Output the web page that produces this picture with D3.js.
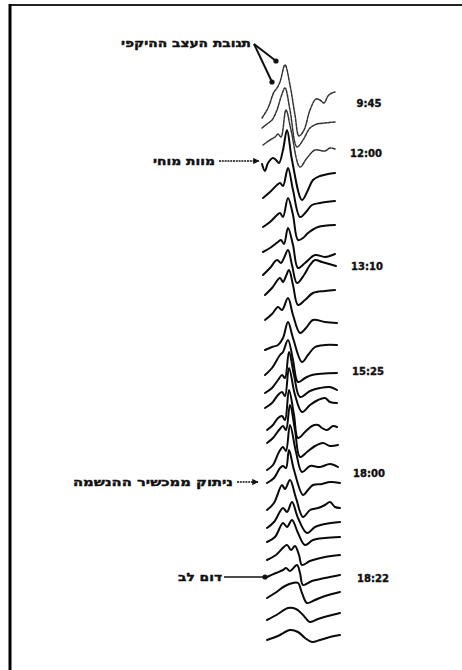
<!DOCTYPE html>
<html><head><meta charset="utf-8">
<script src="https://cdn.jsdelivr.net/npm/d3@7"></script>
<style>html,body{margin:0;padding:0;background:#fff;} svg{display:block;}</style>
</head><body>
<svg id="chart" width="462" height="670"></svg>
<script>
// ---- data (time in ms, amplitude in µV, display offsets in µV) ----
const timeDomain = [0, 39];
const ampDomain = [0, 300];
const offsets = [271, 266, 257.5, 245, 231, 216.5, 204, 192.5, 182.5, 170, 155, 142.5, 133.5,
                 126, 115, 108.5, 95, 88.5, 75, 66, 59, 50, 41.5, 31, 20, 10];
const waves = [
  [[0,0],[3,5],[6,13],[7.5,15],[9,18],[11.5,26.5],[14,16.5],[16.5,1.5],[18.5,-9],[21,-6],[24,4],[27,9.5],[29,9],[31,7.5],[33,11],[35,12.5],[36.5,13]],
  [[0,0],[2.5,2],[5,4],[7.5,9],[9.5,15.5],[11.5,20],[14,9],[17.5,-9.5],[20.5,-6],[24,0],[27.5,2],[31.5,2.5],[36.5,3]],
  [[0.5,0],[4,2.5],[6.5,4],[8,5.5],[9.5,4],[12,17.5],[14.5,7.5],[19,-11],[22.5,-6.5],[26.5,-2.5],[31.5,-3],[34,-1.5],[36.5,-2]],
  [[0,3],[1.5,-0.5],[3,3.5],[5.5,6],[7,5],[8.5,3.5],[10.5,10],[12.5,20],[15,5],[20,-15],[23,-10],[25.5,-5],[29,-3],[33,-2],[36.5,-1.5]],
  [[0.5,0],[4,3],[7.5,6.5],[9,7.5],[10.5,6],[13,15],[15.5,4],[19,-9.5],[22,-7],[25,-3.5],[29,-2.5],[36.5,-1.5]],
  [[0.5,0],[4,2.5],[7.5,6],[9,7],[10.5,5],[13,14.5],[15.5,6],[18,-6.5],[20.5,-5.5],[23,-3],[28,0],[36.5,1]],
  [[0.5,0],[4,2],[8,5],[9.5,6],[11,4],[13,12],[15.5,3.5],[18,-8],[21.5,-5.5],[26.5,-1.5],[31.5,-2.5],[36.5,-1]],
  [[0.5,0],[4,3.5],[7.5,7.5],[9.5,6],[11,8.5],[13,12.5],[15,5],[17.5,-4],[21,0],[24,5],[26.5,7.5],[30,6.5],[37,4.5]],
  [[1.5,0],[5,3.5],[9,8.5],[10.5,6.5],[12,9.5],[13.5,12.5],[15.5,5],[18,-5],[21.5,-2.5],[25.5,1],[31.5,2],[36.5,2.5]],
  [[1.5,0],[5,3],[8,6.5],[10,5],[13,11],[15.5,2.5],[19,-6.5],[22,-4],[25.5,0],[31.5,-1],[37.5,-1.5]],
  [[1.5,0],[5,1.5],[8,2.5],[10.5,6],[13,14],[15.5,6],[20,-6],[23,-2.5],[26.5,1.5],[31.5,2.5],[37.5,2.5]],
  [[1.5,0],[5,3.5],[9,10],[10.5,11.5],[13,17.5],[15.5,7.5],[18,-3.5],[21.5,-1.5],[25,0],[37.5,1]],
  [[1.5,0],[5,2.5],[8,6.5],[10,9],[11.5,7.5],[13.5,20.5],[16,9],[19,-2],[24,1],[29,2.5],[34,3],[37.5,1.5]],
  [[1.5,0],[5,2.5],[8,6.5],[10,8],[11.5,6],[13.5,20],[16.5,6.5],[20,-2],[24,1.5],[28,4],[31.5,5],[34,3],[37.5,2.5]],
  [[2.5,0],[5.5,2.5],[8,6],[10,7],[11.5,5],[13.5,20],[16,7.5],[18,-4],[21.5,-1],[25,2],[28,2.5],[30,1],[32.5,0],[35.5,2],[37.5,1.5]],
  [[2.5,0],[5.5,2.5],[8.5,6.5],[10.5,8.5],[12,6.5],[14,19],[16.5,6.5],[19,-7],[22.5,-4.5],[26.5,-1.5],[30.5,0],[34,-1.5],[38,-1]],
  [[2.5,0],[5.5,2.5],[8.5,9],[10.5,11.5],[12,9.5],[14,22.5],[17,9],[20,-1],[24,2],[29,1.5],[34,3],[38,1.5]],
  [[2.5,0],[6,2.5],[9,7.5],[10.5,8.5],[12,7.5],[13.5,16.5],[16,6.5],[20.5,-6],[23,-3.5],[25.5,-1],[30,-0.5],[34,0.5],[39,0]],
  [[2.5,0],[6,3.5],[10,12.5],[11.5,10.5],[14,15],[17,6],[20.5,-3.5],[24,0],[28,1],[31.5,2.5],[34,4],[36.5,1.5],[39,1]],
  [[2.5,0],[6,3],[10.5,10],[12.5,8],[15,13],[18,5],[22.5,-2.5],[26.5,0.5],[31.5,2],[39,3]],
  [[2.5,0],[6.5,2.5],[10.5,9.5],[12.5,7.5],[15,11],[18,4.5],[21.5,-1.5],[25.5,1],[31.5,2],[39,2.5]],
  [[2.5,0],[7,2.5],[12.5,7.5],[14.5,5],[16.5,7],[18.5,2.5],[20,-2.5],[24,-0.5],[31.5,1.5],[39,2.5]],
  [[2.5,0],[7,2],[10.5,3.5],[12,4.5],[14,3],[17.5,6],[19,2],[20.5,-4],[25,-2],[31.5,-0.5],[39,1]],
  [[2.5,0],[6.5,2.5],[11.5,6],[15.5,7.5],[18,7.5],[20,2.5],[22.5,-2.5],[26.5,-1],[31.5,1],[39,3]],
  [[2.5,0],[8,3],[13,6],[17,5.5],[20.5,2.5],[24,-1],[28,0.5],[33,2],[39,3.5]],
  [[2.5,0],[8,2],[14,5],[18,4],[21.5,1],[25,-1],[29,0],[34,1.5],[39,2.5]]
];
const timeLabels = ["9:45", "12:00", "13:10", "15:25", "18:00", "18:22"];
const timeLabelTrace = [0, 2, 7, 11, 17, 22];
const eventLabels = ["תגובת העצב ההיקפי", "מוות מוחי", "ניתוק ממכשיר ההנשמה", "דום לב"];
// anchor points of event arrows, in data units [ms, µV]
const eventAnchors = [[[7, 299.5], [5, 289]], [[-1.5, 249.5]], [[0, 89]], [[1.5, 41.5]]];

// ---- layout ----
const svg = d3.select("#chart");
const x = d3.scaleLinear().domain(timeDomain).range([262, 340]);
const y = d3.scaleLinear().domain(ampDomain).range([660, 60]);
const font = "'DejaVu Sans', 'Noto Sans', sans-serif";

svg.append("rect").attr("width", 462).attr("height", 670).attr("fill", "#fff");
// frame (top and left edges of the scanned box)
svg.append("line").attr("x1", 9).attr("x2", 462).attr("y1", 5).attr("y2", 5)
  .attr("stroke", "#222").attr("stroke-width", 2);
svg.append("line").attr("x1", 10).attr("x2", 10).attr("y1", 4).attr("y2", 670)
  .attr("stroke", "#000").attr("stroke-width", 3);

const line = d3.line()
  .x(d => x(d[0]))
  .y(d => y(d[1]))
  .curve(d3.curveCatmullRom.alpha(0.5));

svg.append("g").selectAll("path")
  .data(waves)
  .join("path")
  .attr("d", (w, i) => line(w.map(p => [p[0], offsets[i] + p[1]])))
  .attr("fill", "none")
  .attr("stroke", (w, i) => i < 3 ? "#333" : "#0a0a0a")
  .attr("stroke-width", (w, i) => i < 3 ? 1.5 : 2)
  .attr("stroke-dasharray", (w, i) => i < 3 ? "3,1.2" : null)
  .attr("stroke-linejoin", "round")
  .attr("stroke-linecap", "round");

// time labels
const labelX = [369, 366, 367, 368, 369, 373];
const labelDy = [-15, 8, -9, -4, -10, 1];
svg.append("g").selectAll("text")
  .data(timeLabels)
  .join("text")
  .attr("x", (d, i) => labelX[i])
  .attr("y", (d, i) => y(offsets[timeLabelTrace[i]]) + labelDy[i])
  .attr("text-anchor", "middle")
  .attr("dominant-baseline", "central")
  .attr("font-family", font)
  .attr("font-weight", "bold")
  .attr("font-size", 10)
  .attr("fill", "#111")
  .attr("stroke", "#111").attr("stroke-width", 0.4)
  .text(d => d);

// event labels
const evRight = [251, 215, 233, 222];
const evY = [43, 161, 482, 577];
const evLen = [130, 62, 160, 44];
svg.append("g").selectAll("text")
  .data(eventLabels)
  .join("text")
  .attr("x", (d, i) => evRight[i])
  .attr("y", (d, i) => evY[i])
  .attr("text-anchor", "end")
  .attr("dominant-baseline", "central")
  .attr("font-family", font)
  .attr("font-weight", "bold")
  .attr("font-size", 11)
  .attr("fill", "#111")
  .attr("stroke", "#111").attr("stroke-width", 0.4)
  .attr("textLength", (d, i) => evLen[i])
  .attr("lengthAdjust", "spacingAndGlyphs")
  .text(d => d);

svg.append("defs").append("marker")
  .attr("id", "head").attr("viewBox", "0 0 10 10")
  .attr("refX", 9).attr("refY", 5)
  .attr("markerWidth", 4).attr("markerHeight", 4)
  .attr("orient", "auto")
  .append("path").attr("d", "M0,0 L10,5 L0,10 z").attr("fill", "#111");

const arrows = svg.append("g").attr("stroke", "#111").attr("fill", "#111");
// peripheral nerve response pointers
eventAnchors[0].forEach(a => {
  arrows.append("line").attr("x1", 254).attr("y1", 44)
    .attr("x2", x(a[0])).attr("y2", y(a[1])).attr("stroke-width", 2);
  arrows.append("circle").attr("cx", x(a[0])).attr("cy", y(a[1])).attr("r", 2.6).attr("stroke", "none");
});
// brain death
{
  const a = eventAnchors[1][0];
  arrows.append("line").attr("x1", 219).attr("y1", y(a[1])).attr("x2", x(a[0])).attr("y2", y(a[1]))
    .attr("stroke-width", 1.6).attr("stroke-dasharray", "2,0.8").attr("marker-end", "url(#head)");
}
// ventilator disconnection
{
  const a = eventAnchors[2][0];
  arrows.append("line").attr("x1", 237).attr("y1", y(a[1])).attr("x2", x(a[0]) - 4).attr("y2", y(a[1]))
    .attr("stroke-width", 1.6).attr("stroke-dasharray", "2,0.8").attr("marker-end", "url(#head)");
}
// cardiac arrest
{
  const a = eventAnchors[3][0];
  arrows.append("line").attr("x1", 224).attr("y1", y(a[1])).attr("x2", x(a[0])).attr("y2", y(a[1]))
    .attr("stroke-width", 1.6);
  arrows.append("circle").attr("cx", x(a[0])).attr("cy", y(a[1])).attr("r", 2.6).attr("stroke", "none");
}
</script>
</body></html>
